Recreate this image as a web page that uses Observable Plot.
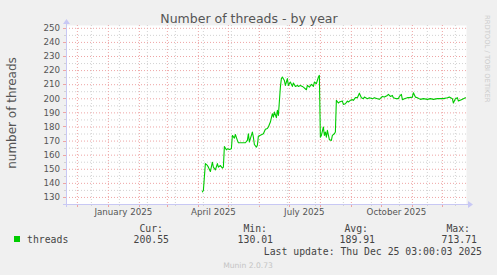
<!DOCTYPE html>
<html><head><meta charset="utf-8">
<script src="https://cdn.jsdelivr.net/npm/d3@7"></script>
<script src="https://cdn.jsdelivr.net/npm/@observablehq/plot@0.6"></script>
<style>
html,body{margin:0;padding:0;background:#f0f0f0;}
</style></head><body><div id="chart"></div>
<script>
// ---- data ----
const dates = [
"2025-04-05","2025-04-06","2025-04-08","2025-04-10","2025-04-11","2025-04-13","2025-04-15","2025-04-16","2025-04-18","2025-04-20",
"2025-04-21","2025-04-23","2025-04-25","2025-04-26","2025-04-27","2025-04-29","2025-04-30","2025-05-02","2025-05-04","2025-05-05",
"2025-05-07","2025-05-08","2025-05-10","2025-05-11","2025-05-15","2025-05-18","2025-05-20","2025-05-21","2025-05-22","2025-05-23",
"2025-05-25","2025-05-26","2025-05-27","2025-05-29","2025-05-30","2025-05-31","2025-06-03","2025-06-05","2025-06-07","2025-06-09",
"2025-06-10","2025-06-12","2025-06-14","2025-06-15","2025-06-16","2025-06-18","2025-06-19","2025-06-20","2025-06-22","2025-06-23",
"2025-06-24","2025-06-26","2025-06-27","2025-06-29","2025-06-30","2025-07-02","2025-07-04","2025-07-05","2025-07-07","2025-07-09",
"2025-07-10","2025-07-12","2025-07-14","2025-07-15","2025-07-18","2025-07-19","2025-07-21","2025-07-23","2025-07-25","2025-07-26",
"2025-07-28","2025-07-30","2025-07-31","2025-08-01","2025-08-02","2025-08-04","2025-08-05","2025-08-06","2025-08-07","2025-08-08",
"2025-08-10","2025-08-12","2025-08-13","2025-08-15","2025-08-16","2025-08-17","2025-08-19","2025-08-20","2025-08-23","2025-08-24",
"2025-08-26","2025-08-28","2025-08-29","2025-08-31","2025-09-02","2025-09-03","2025-09-05","2025-09-07","2025-09-08","2025-09-09",
"2025-09-11","2025-09-13","2025-09-14","2025-09-17","2025-09-19","2025-09-22","2025-09-24","2025-09-27","2025-09-29","2025-10-02",
"2025-10-04","2025-10-07","2025-10-08","2025-10-10","2025-10-12","2025-10-13","2025-10-16","2025-10-18","2025-10-19","2025-10-21",
"2025-10-22","2025-10-24","2025-10-27","2025-10-29","2025-11-01","2025-11-02","2025-11-04","2025-11-06","2025-11-09","2025-11-12",
"2025-11-16","2025-11-19","2025-11-22","2025-11-26","2025-11-29","2025-12-02","2025-12-06","2025-12-08","2025-12-11","2025-12-12",
"2025-12-14","2025-12-16","2025-12-17","2025-12-20","2025-12-22","2025-12-24"
];
const threads = [
134,135,154,152.7,151.5,148.4,155,151.5,149.6,154,
151.5,152.7,150.8,151.5,166.2,163.8,164.5,164,164.5,174,
172.1,174.7,170.5,168.8,168.8,168.8,170.5,175.2,169.3,171.7,
176.4,172.8,167.6,165.7,167,173.5,174.5,175.2,178.4,179,
180,183.5,189.4,187,190.6,186.6,191.8,188.2,208.3,214.3,
215.4,213,209.5,214.3,209.5,211.9,208.8,211.2,208.8,209.5,
208.8,209.5,208.8,208.3,206.4,209.5,208.3,210.2,208.8,211.9,
210.7,215.4,216.6,172.8,174,180,174,176.4,172.8,177.6,
171,170.5,174,175.2,176.4,198.9,197,197.7,198.4,196,
196.5,198.4,197.7,198.9,199.4,198.9,200.8,200.8,202.4,204,
200.8,200.1,201.2,200.1,200.8,200.1,200.8,200.1,199.6,201.7,
201.2,202.4,203.1,201.7,202.4,200.8,200.1,200.1,201.7,203.1,
199.4,200.1,200.8,200.8,201.2,204.3,201.2,200.8,199.6,200.1,
199.6,200.1,199.6,200.1,200.1,200.1,200.8,201.2,200.1,197,
200.1,200.8,198.4,199.4,200.1,200.8
];
const yMajor = [130,140,150,160,170,180,190,200,210,220,230,240,250];
const yMinor = [135,145,155,165,175,185,195,205,215,225,235,245];
const xLabelDates = ["2025-01-16","2025-04-16","2025-07-16","2025-10-16"];
const xLabels = ["January 2025","April 2025","July 2025","October 2025"];
const monthStarts = ["2024-12-01","2025-01-01","2025-02-01","2025-03-01","2025-04-01","2025-05-01","2025-06-01",
  "2025-07-01","2025-08-01","2025-09-01","2025-10-01","2025-11-01","2025-12-01"];
const minorDates = ["2024-12-15","2025-01-12","2025-02-09","2025-03-09","2025-04-06","2025-05-04","2025-06-01",
  "2025-06-29","2025-07-27","2025-08-24","2025-09-21","2025-10-19","2025-11-16","2025-12-14"];
const rangeStart = "2024-11-20T03:00:03Z";
const rangeEnd = "2025-12-25T03:00:03Z";
const seriesName = "threads";
const statLabels = ["Cur:","Min:","Avg:","Max:"];
const statValues = ["200.55","130.01","189.91","713.71"];
const titleText = "Number of threads - by year";
const yLabelText = "number of threads";
const lastUpdate = "Last update: Thu Dec 25 03:00:03 2025";
const footer = "Munin 2.0.73";
const watermark = "RRDTOOL / TOBI OETIKER";

// ---- build ----
const data = dates.map((d, i) => ({date: new Date(d), value: threads[i]}));
const toDate = s => new Date(s);
const RED = "#eea4a4", GRAY = "#d2d2d2", AXIS = "#c8c8f4", TXT = "#555555";

const plot = Plot.plot({
  width: 497, height: 275,
  marginLeft: 66, marginRight: 31, marginTop: 25, marginBottom: 71,
  style: {background: "#f0f0f0", fontFamily: "DejaVu Sans", overflow: "visible"},
  x: {type: "utc", domain: [toDate(rangeStart), toDate(rangeEnd)]},
  y: {domain: [125, 252]},
  marks: [
    Plot.frame({fill: "white", stroke: null}),
    Plot.ruleY(yMinor, {stroke: GRAY, strokeDasharray: "1,2"}),
    Plot.ruleX(minorDates.map(toDate), {stroke: GRAY, strokeDasharray: "1,2"}),
    Plot.ruleY(yMajor, {stroke: RED, strokeDasharray: "1,2"}),
    Plot.ruleX(monthStarts.map(toDate), {stroke: RED, strokeDasharray: "1,2"}),
    Plot.lineY(data, {x: "date", y: "value", stroke: "#00cc00", strokeWidth: 1.1}),
    Plot.axisY({ticks: yMajor, tickSize: 0, tickPadding: 6.5, fontSize: 8.7, fill: TXT, label: null}),
    Plot.axisX({ticks: xLabelDates.map(toDate), tickSize: 0, tickPadding: 4, fontSize: 8.7, fill: TXT,
      tickFormat: d => xLabels[xLabelDates.findIndex(s => +toDate(s) === +d)], label: null})
  ]
});
document.getElementById("chart").appendChild(plot);

const svg = d3.select(plot);
const xs = plot.scale("x"), ys = plot.scale("y");
const [x0, x1] = xs.range, yBot = ys.apply(125), yTop = ys.range[1];

// tick marks
monthStarts.forEach(s => { const x = Math.round(xs.apply(toDate(s))) + 0.5;
  svg.append("line").attr("x1", x).attr("x2", x).attr("y1", yBot).attr("y2", yBot + 3).attr("stroke", RED); });
minorDates.forEach(s => { const x = Math.round(xs.apply(toDate(s))) + 0.5;
  svg.append("line").attr("x1", x).attr("x2", x).attr("y1", yBot).attr("y2", yBot + 2).attr("stroke", GRAY); });
yMajor.forEach(v => { const y = Math.round(ys.apply(v)) + 0.5;
  svg.append("line").attr("x1", x0 - 3).attr("x2", x0).attr("y1", y).attr("y2", y).attr("stroke", RED); });
yMinor.forEach(v => { const y = Math.round(ys.apply(v)) + 0.5;
  svg.append("line").attr("x1", x0 - 2).attr("x2", x0).attr("y1", y).attr("y2", y).attr("stroke", GRAY); });

// axes with arrows
const ax = Math.round(x0) + 0.5, ay = Math.round(yBot) + 0.5;
svg.append("line").attr("x1", x0 - 3).attr("x2", x1 + 3).attr("y1", ay).attr("y2", ay).attr("stroke", AXIS);
svg.append("line").attr("x1", ax).attr("x2", ax).attr("y1", yBot + 3).attr("y2", yTop - 3).attr("stroke", AXIS);
svg.append("path").attr("d", `M${x1 + 2},${ay - 3.5}L${x1 + 7},${ay}L${x1 + 2},${ay + 3.5}Z`).attr("fill", AXIS);
svg.append("path").attr("d", `M${ax - 3.5},${yTop - 1}L${ax},${yTop - 6}L${ax + 3.5},${yTop - 1}Z`).attr("fill", AXIS);

// titles
svg.append("text").attr("x", 249).attr("y", 22.5).attr("text-anchor", "middle")
  .attr("font-size", 12.5).attr("fill", TXT).text(titleText);
svg.append("text").attr("transform", "translate(15.5,113) rotate(-90)").attr("text-anchor", "middle")
  .attr("font-size", 12).attr("fill", TXT).text(yLabelText);
svg.append("text").attr("transform", "translate(485,15) rotate(90)").attr("text-anchor", "start")
  .attr("font-size", 6.8).attr("fill", "#cccccc").text(watermark);

// legend
const mono = "DejaVu Sans Mono";
svg.append("rect").attr("x", 14).attr("y", 236).attr("width", 6).attr("height", 6).attr("fill", "#00cc00");
svg.append("text").attr("x", 27).attr("y", 243).attr("text-anchor", "start").attr("font-family", mono)
  .attr("font-size", 9.8).attr("fill", "#444").text(seriesName);
const labelEnds = [163, 267, 368, 470], valueEnds = [169, 273, 375, 477];
statLabels.forEach((t, i) => svg.append("text").attr("x", labelEnds[i]).attr("y", 232).attr("text-anchor", "end")
  .attr("font-family", mono).attr("font-size", 9.8).attr("fill", "#444").text(t));
statValues.forEach((t, i) => svg.append("text").attr("x", valueEnds[i]).attr("y", 243).attr("text-anchor", "end")
  .attr("font-family", mono).attr("font-size", 9.8).attr("fill", "#444").text(t));
svg.append("text").attr("x", 482).attr("y", 255).attr("text-anchor", "end")
  .attr("font-family", mono).attr("font-size", 9.8).attr("fill", "#444").text(lastUpdate);
svg.append("text").attr("x", 248).attr("y", 268).attr("text-anchor", "middle")
  .attr("font-size", 7.6).attr("fill", "#c4c4c4").text(footer);
</script>
</body></html>
